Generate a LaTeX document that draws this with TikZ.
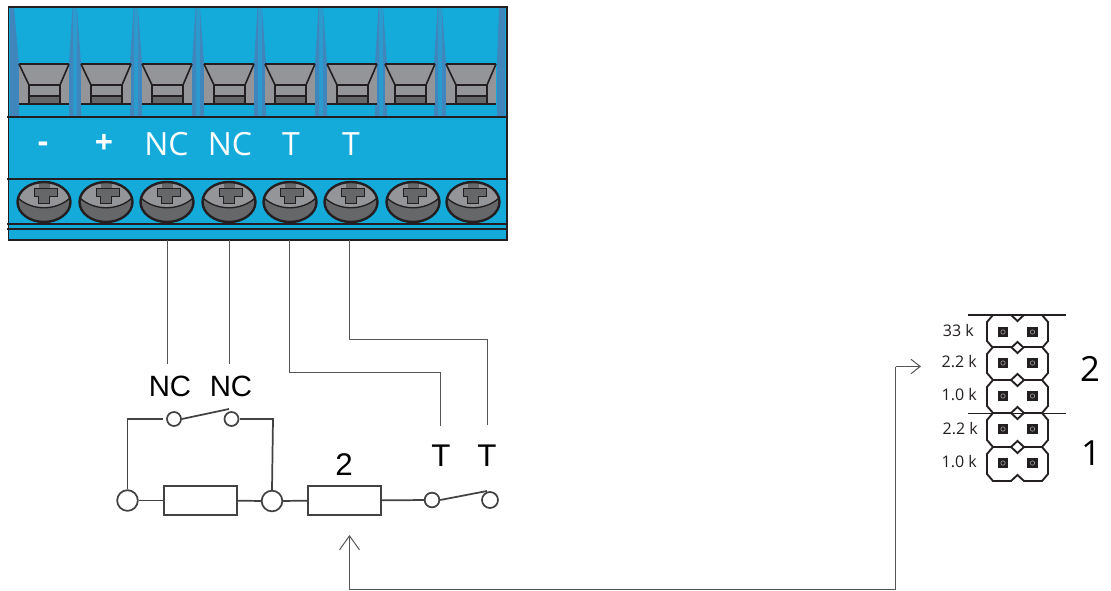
\documentclass[tikz,border=0pt]{standalone}
\usepackage{fontspec}
\setmainfont{Liberation Sans}
\newfontfamily\myr{Open Sans}
\usetikzlibrary{arrows.meta}
\definecolor{blockblue}{HTML}{14ABDB}
\definecolor{wedgeblue}{HTML}{3F86BD}
\definecolor{gapblue}{HTML}{2A9BCF}
\definecolor{ink}{HTML}{231F20}
\definecolor{lightgray}{HTML}{939598}
\definecolor{midgray}{HTML}{666769}
\definecolor{wire}{HTML}{555555}
\tikzset{
  blockline/.style={draw=ink,line width=1.2pt},
  wireline/.style={draw=wire,line width=0.75pt},
  circuitline/.style={draw=ink!85,line width=1.3pt},
  contact/.style={circle,draw=ink!85,fill=white,line width=1.3pt,inner sep=0pt},
  resistor/.style={rectangle,draw=ink!85,fill=white,line width=1.5pt,minimum width=54.75pt,minimum height=21.75pt,inner sep=0pt},
  whitelabel/.style={text=white,font=\myr\fontsize{24}{24}\selectfont,inner sep=0pt},
  blacklabel/.style={text=black,font=\fontsize{22}{22}\selectfont,inner sep=0pt},
  tlabel/.style={text=black,font=\fontsize{23.5}{24}\selectfont,inner sep=0pt},
  ohmlabel/.style={text=ink,font=\myr\fontsize{12}{12}\selectfont,inner sep=0pt,anchor=east},
  groupnum/.style={text=black,font=\myr\fontsize{26}{26}\selectfont,inner sep=0pt},
  pin/.style={rectangle,fill=ink,minimum size=8.2pt,inner sep=0pt},
  openhead/.style={-{Straight Barb[length=10.5pt,width=15pt,line width=0.75pt]}},
  smallhead/.style={-{Straight Barb[length=7pt,width=11pt,line width=0.75pt]}},
}
\begin{document}
\begin{tikzpicture}[x=0.75pt,y=-0.75pt]
\useasboundingbox (0,0) rectangle (1111,590);
% terminal block
\fill[blockblue] (8.5,7) rectangle (507,240);
\fill[wedgeblue] (10,8) -- (14,8) -- (19,64) -- (19,116) -- (10,116) -- cycle;
\foreach \g in {75,136,198,260,321,381,440}{
  \fill[gapblue] (\g-2,8) rectangle (\g+2,116);
  \fill[wedgeblue] (\g-2.5,8) -- (\g-6,64) -- (\g-6,116) -- (\g-2,116) -- (\g-2,8) -- cycle;
  \fill[wedgeblue] (\g+2,8) -- (\g+6,64) -- (\g+6,116) -- (\g+2,116) -- cycle;
}
\fill[wedgeblue] (497,64) -- (499,8) -- (505,8) -- (505,116) -- (497,116) -- cycle;
% clamps
\foreach \x in {19,81,142,204,265,327,385,446}{
  \fill[lightgray] (\x,64) rectangle (\x+50,104);
  \fill[midgray] (\x+10,96) rectangle (\x+41,104);
  \draw[blockline,line width=1.4pt] (\x,104) -- (\x+50,104);
  \draw[blockline,line width=1.4pt] (\x,64) -- (\x+50,64);
  \draw[blockline] (\x,64) -- (\x+10,85) -- (\x+41,85) -- (\x+50,64);
  \draw[blockline] (\x+10,85) -- (\x+10,104);
  \draw[blockline] (\x+41,85) -- (\x+41,104);
  \draw[blockline] (\x+10,96) -- (\x+41,96);
}
% screws
\foreach \x in {44,106,167,229,290,351,413,473}{
  \fill[midgray] (\x,202) ellipse [x radius=26.5,y radius=20];
  \fill[lightgray] (\x-26,198) .. controls (\x-24,178) and (\x+24,178) .. (\x+26,198) .. controls (\x+12,211) and (\x-12,211) .. (\x-26,198) -- cycle;
  \fill[midgray] (\x-5.5,183) rectangle (\x+5.5,203);
  \fill[midgray] (\x-10,188) rectangle (\x+13,196);
  \draw[ink,line width=1pt] (\x-26,198) .. controls (\x-12,211) and (\x+12,211) .. (\x+26,198);
  \draw[ink,line width=1.8pt] (\x,202) ellipse [x radius=26.5,y radius=20];
  \draw[ink,line width=0.7pt] (\x-10,188) -- (\x-10,196) -- (\x-5.5,196) -- (\x-5.5,203) -- (\x+5.5,203) -- (\x+5.5,196) -- (\x+13,196) -- (\x+13,188) -- cycle;
}
% block lines and frame
\draw[blockline] (7,117) -- (507,117);
\draw[blockline] (7,179) -- (507,179);
\draw[blockline] (7,224) -- (507,224);
\draw[blockline,line width=0.9pt] (7,229) -- (507,229);
\draw[draw=ink,line width=1.2pt] (8.5,7) rectangle (507,240);
% block labels
\node[whitelabel] (lm) at (43,147) {\textbf{-}};
\node[whitelabel] (lp) at (104,144) {\textbf{+}};
\node[whitelabel] (ln1) at (166.5,144) {NC};
\node[whitelabel] (ln2) at (230,144) {NC};
\node[whitelabel] (lt1) at (291,144) {T};
\node[whitelabel] (lt2) at (351,144) {T};
% connection points under block
\coordinate (b1) at (167.5,240);
\coordinate (b2) at (229.5,240);
\coordinate (b3) at (289.5,240);
\coordinate (b4) at (349.5,240);
\coordinate (e1) at (167.5,364);
\coordinate (e2) at (229.5,364);
\coordinate (e3) at (440.5,426);
\coordinate (e4) at (487.5,425);
\draw[wireline] (b1) -- (e1);
\draw[wireline] (b2) -- (e2);
\draw[wireline] (b3) -- (289.5,372.5) -- (440.5,372.5) -- (e3);
\draw[wireline] (b4) -- (349.5,339.5) -- (487.5,339.5) -- (e4);
% circuit labels
\node[blacklabel] (cn1) at (170,386) {NC};
\node[blacklabel] (cn2) at (231,386) {NC};
\node[tlabel] (ct1) at (441,456) {T};
\node[tlabel] (ct2) at (487,456) {T};
\node[tlabel] (c2) at (344,464.5) {2};
% circuit
\node[contact,minimum size=15.5pt] (ca) at (127.5,500.5) {};
\node[contact,minimum size=15.5pt] (cb) at (272,501) {};
\node[contact,minimum size=10.5pt] (sa) at (174,419) {};
\node[contact,minimum size=10.5pt] (sb) at (231.5,419) {};
\node[contact,minimum size=11pt] (ta) at (432,500) {};
\node[contact,minimum size=12pt] (tb) at (490,500) {};
\node[resistor] (r1) at (200.5,500.5) {};
\node[resistor] (r2) at (344.5,500.5) {};
\draw[circuitline] (ca) -- (r1);
\draw[circuitline] (r1) -- (cb);
\draw[circuitline] (cb) -- (r2);
\draw[circuitline] (r2) -- (ta);
\coordinate (sal) at (163,419);
\coordinate (sbr) at (240,419);
\draw[circuitline] (ca.north) -- (127.5,419) -- (sal);
\draw[circuitline] (sbr) -- (273,419) -- (cb.north);
\coordinate (armb) at (229,409);
\coordinate (armt) at (487,491);
\draw[circuitline] (sa.east) -- (armb);
\draw[circuitline] (ta.east) -- (armt);
% jumper block
\foreach \y/\h in {315/33,347/33,380/33,413/34,447/34}{
  \draw[ink,line width=1.4pt,fill=white] (987,\y+7) -- (993,\y) -- (1011,\y) -- (1017.5,\y+6) -- (1024,\y) -- (1042,\y) -- (1048,\y+7)
    -- (1048,\y+\h-7) -- (1042,\y+\h) -- (1024,\y+\h) -- (1017.5,\y+\h-6) -- (1011,\y+\h) -- (993,\y+\h) -- (987,\y+\h-7) -- cycle;
}
\foreach \i/\y in {1/332,2/363,3/396,4/429,5/463}{
  \node[pin] (pl\i) at (1003,\y) {};
  \node[pin] (pr\i) at (1032.5,\y) {};
  \draw[lightgray,line width=0.5pt] (1003,\y) circle (2.2);
  \draw[lightgray,line width=0.5pt] (1032.5,\y) circle (2.2);
}
\draw[ink,line width=0.8pt] (968,315) -- (1066,315);
\draw[ink,line width=0.8pt] (968,413.5) -- (1066,413.5);
\node[ohmlabel] (o1) at (974,330) {33 k};
\node[ohmlabel] (o2) at (977,362) {2.2 k};
\node[ohmlabel] (o3) at (977,395) {1.0 k};
\node[ohmlabel] (o4) at (978,429) {2.2 k};
\node[ohmlabel] (o5) at (977,462) {1.0 k};
\node[groupnum] (g2) at (1090,368.5) {2};
\node[groupnum] (g1) at (1091,453) {1};
% adjustment arrow
\coordinate (tipa) at (349.5,535);
\coordinate (tipb) at (921,366.5);
\draw[wireline,openhead] (349.5,589.5) -- (tipa);
\draw[wireline] (349.5,589.5) -- (895.5,589.5) -- (895.5,366.5);
\draw[wireline,smallhead] (895.5,366.5) -- (tipb);
\end{tikzpicture}
\end{document}
